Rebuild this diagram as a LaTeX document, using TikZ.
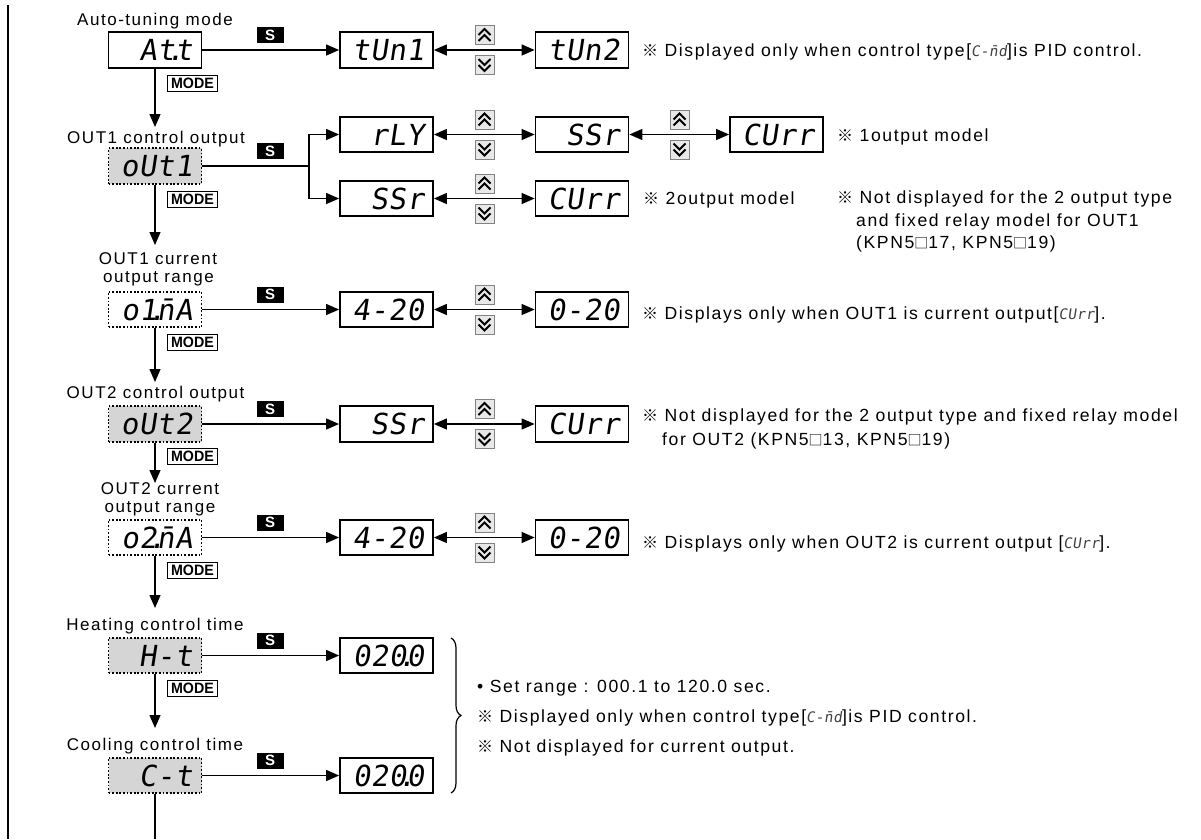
\documentclass[tikz,border=0pt]{standalone}
\usepackage{fontspec}
\setmainfont[LetterSpace=9]{Liberation Sans}
\newfontfamily\cjk{Noto Sans CJK KR}
\newfontfamily\dispfont[FakeSlant=0.15,LetterSpace=2]{DejaVu Sans Mono}
\newfontfamily\modefont[FakeStretch=0.95]{Liberation Sans Bold}
\usetikzlibrary{arrows.meta,decorations.pathreplacing}
\definecolor{lcdgray}{RGB}{213,213,213}
\definecolor{btnfill}{RGB}{232,232,232}
\definecolor{btnedge}{RGB}{130,130,130}
\newcommand\kome{{\cjk\fontsize{16}{16}\selectfont ※}}
\newcommand\sqbx{{\cjk\fontsize{14}{14}\selectfont □}}
\newcommand\segtxt[1]{{\dispfont\fontsize{14.5}{14.5}\selectfont\color{black!75}#1}}
\newcommand\dpt{\kern-0.3em.\kern-0.3em}
\tikzset{
 disp/.style={draw, line width=1.8pt, fill=white, minimum height=35.5pt, inner ysep=0pt, inner xsep=9pt,
   text width=75pt, align=right, font=\dispfont\fontsize{29}{29}\selectfont},
 gbox/.style={disp, dash pattern=on 1.8pt off 1.8pt, fill=lcdgray},
 wbox/.style={disp, dash pattern=on 1.8pt off 1.8pt},
 sbtn/.style={fill=black, text=white, font=\bfseries\fontsize{15}{15}\selectfont, minimum width=27pt, minimum height=16pt, inner sep=0pt},
 modebtn/.style={draw, line width=1pt, fill=white, font=\modefont\fontsize{15}{15}\selectfont, minimum width=50pt, minimum height=16pt, inner sep=0pt},
 lbl/.style={font=\fontsize{17}{20}\selectfont, anchor=base, inner sep=0pt},
 note/.style={font=\fontsize{17.6}{20}\selectfont, anchor=base west, inner sep=0pt},
 conn/.style={line width=1.3pt},
 arr/.style={conn, -{Triangle[length=13pt,width=11pt]}},
 darr/.style={conn, {Triangle[length=13pt,width=11pt]}-{Triangle[length=13pt,width=11pt]}},
 upkey/.pic={\draw[draw=btnedge, fill=btnfill, line width=0.8pt] (-9.5,-9.5) rectangle (9.5,9.5);
   \draw[line width=2pt] (-6,0) -- (0,-6) -- (6,0) (-6,6) -- (0,0) -- (6,6);},
 downkey/.pic={\draw[draw=btnedge, fill=btnfill, line width=0.8pt] (-9.5,-9.5) rectangle (9.5,9.5);
   \draw[line width=2pt] (-6,-6) -- (0,0) -- (6,-6) (-6,0) -- (0,6) -- (6,0);},
}
\begin{document}
\begin{tikzpicture}[x=1pt,y=-1pt]
\useasboundingbox (0,0) rectangle (1201,839);
% left rule
\coordinate (lt) at (8,5);
\coordinate (lb) at (8,839);
\draw[line width=1.2pt] (lt) -- (lb);

% ---- main column ----
\node[lbl] (l1) at (155,25.5) {Auto-tuning mode};
\node[disp] (att) at (155,50) {At\dpt t};
\node[lbl] (l2) at (156,143) {OUT1 control output};
\node[gbox] (out1) at (155,166) {oUt1};
\node[lbl] (l3a) at (158,264) {OUT1 current};
\node[lbl] (l3b) at (158.5,282) {output range};
\node[wbox] (o1ma) at (155,309.5) {o1\dpt{}n̄A};
\node[lbl] (l4) at (155.5,398) {OUT2 control output};
\node[gbox] (out2) at (155,424) {oUt2};
\node[lbl] (l5a) at (160,494.5) {OUT2 current};
\node[lbl] (l5b) at (160,512.5) {output range};
\node[wbox] (o2ma) at (155,537.5) {o2\dpt{}n̄A};
\node[lbl] (l6) at (155,630) {Heating control time};
\node[gbox] (ht) at (155,655.5) {H-t};
\node[lbl] (l7) at (155,750) {Cooling control time};
\node[gbox] (ct) at (155,775.5) {C-t};

% MODE keys
\node[modebtn] (m1) at (192.5,83) {MODE};
\node[modebtn] (m2) at (192.5,199) {MODE};
\node[modebtn] (m3) at (192.5,342) {MODE};
\node[modebtn] (m4) at (192.5,456.5) {MODE};
\node[modebtn] (m5) at (192.5,570.5) {MODE};
\node[modebtn] (m6) at (192.5,688.5) {MODE};

% vertical arrows
\coordinate (t2) at (155,127);
\coordinate (t3) at (155,245);
\coordinate (t4) at (155,382);
\coordinate (t5) at (155,483);
\coordinate (t6) at (155,608);
\coordinate (t7) at (155,728);
\coordinate (cend) at (155,839);
\draw[arr] (att.south) -- (t2);
\draw[arr] (out1.south) -- (t3);
\draw[arr] (o1ma.south) -- (t4);
\draw[arr] (out2.south) -- (t5);
\draw[arr] (o2ma.south) -- (t6);
\draw[arr] (ht.south) -- (t7);
\draw[conn] (ct.south) -- (cend);

% ---- value boxes ----
\node[disp] (tun1) at (386.5,50) {tUn1};
\node[disp] (tun2) at (582,50) {tUn2};
\node[disp] (rly) at (386.5,134.5) {rLY};
\node[disp] (ssra) at (582,134.5) {SSr};
\node[disp] (curra) at (776.5,134.5) {CUrr};
\node[disp] (ssrb) at (386.5,198.5) {SSr};
\node[disp] (currb) at (582,198.5) {CUrr};
\node[disp] (r3a) at (386.5,309.5) {4-20};
\node[disp] (r3b) at (582,309.5) {0-20};
\node[disp] (ssrc) at (386.5,424) {SSr};
\node[disp] (currc) at (582,424) {CUrr};
\node[disp] (r5a) at (386.5,537.5) {4-20};
\node[disp] (r5b) at (582,537.5) {0-20};
\node[disp] (hval) at (386.5,655.5) {020\dpt 0};
\node[disp] (cval) at (386.5,775.5) {020\dpt 0};

% S keys
\node[sbtn] (s1) at (270,35) {S};
\node[sbtn] (s2) at (270,151) {S};
\node[sbtn] (s3) at (270,294.5) {S};
\node[sbtn] (s4) at (270,409) {S};
\node[sbtn] (s5) at (270,522.5) {S};
\node[sbtn] (s6) at (270,640.5) {S};
\node[sbtn] (s7) at (270,760.5) {S};

% S arrows
\draw[arr] (att.east) -- (tun1.west);
\coordinate (br) at (309,166);
\draw[conn] (out1.east) -- (br);
\draw[arr] (br) |- (rly.west);
\draw[arr] (br) |- (ssrb.west);
\draw[arr] (o1ma.east) -- (r3a.west);
\draw[arr] (out2.east) -- (ssrc.west);
\draw[arr] (o2ma.east) -- (r5a.west);
\draw[arr] (ht.east) -- (hval.west);
\draw[arr] (ct.east) -- (cval.west);

% up/down arrows
\draw[darr] (tun1.east) -- (tun2.west);
\draw[darr] (rly.east) -- (ssra.west);
\draw[darr] (ssra.east) -- (curra.west);
\draw[darr] (ssrb.east) -- (currb.west);
\draw[darr] (r3a.east) -- (r3b.west);
\draw[darr] (ssrc.east) -- (currc.west);
\draw[darr] (r5a.east) -- (r5b.west);

\foreach \xx/\yy in {484.5/50, 484.5/134.5, 679.5/134.5, 484.5/198.5, 484.5/309.5, 484.5/424, 484.5/537.5}{
  \pic at (\xx,\yy-15) {upkey};
  \pic at (\xx,\yy+15) {downkey};
}

% brace
\coordinate (bt) at (451,638);
\coordinate (bb) at (451,793);
\draw[line width=1.2pt, decorate, decoration={brace, amplitude=10pt}] (bt) -- (bb);

% ---- notes ----
\node[note] (n1) at (642,56) {\kome\ Displayed only when control type[\segtxt{C-n̄d}]is PID control.};
\node[note] (n2) at (837,141) {\kome\ 1output model};
\node[note] (n3) at (643,204) {\kome\ 2output model};
\node[note] (n4a) at (837,203) {\kome\ Not displayed for the 2 output type};
\node[note] (n4b) at (856,226) {and fixed relay model for OUT1};
\node[note] (n4c) at (856,248) {(KPN5\sqbx17, KPN5\sqbx19)};
\node[note] (n5) at (642,319) {\kome\ Displays only when OUT1 is current output[\segtxt{CUrr}].};
\node[note] (n6a) at (642,421) {\kome\ Not displayed for the 2 output type and fixed relay model};
\node[note] (n6b) at (662,445) {for OUT2 (KPN5\sqbx13, KPN5\sqbx19)};
\node[note] (n7) at (642,548) {\kome\ Displays only when OUT2 is current output [\segtxt{CUrr}].};
\node[note] (n8a) at (477,692) {• Set range : 000.1 to 120.0 sec.};
\node[note] (n8b) at (477,722) {\kome\ Displayed only when control type[\segtxt{C-n̄d}]is PID control.};
\node[note] (n8c) at (477,752) {\kome\ Not displayed for current output.};
\end{tikzpicture}
\end{document}
